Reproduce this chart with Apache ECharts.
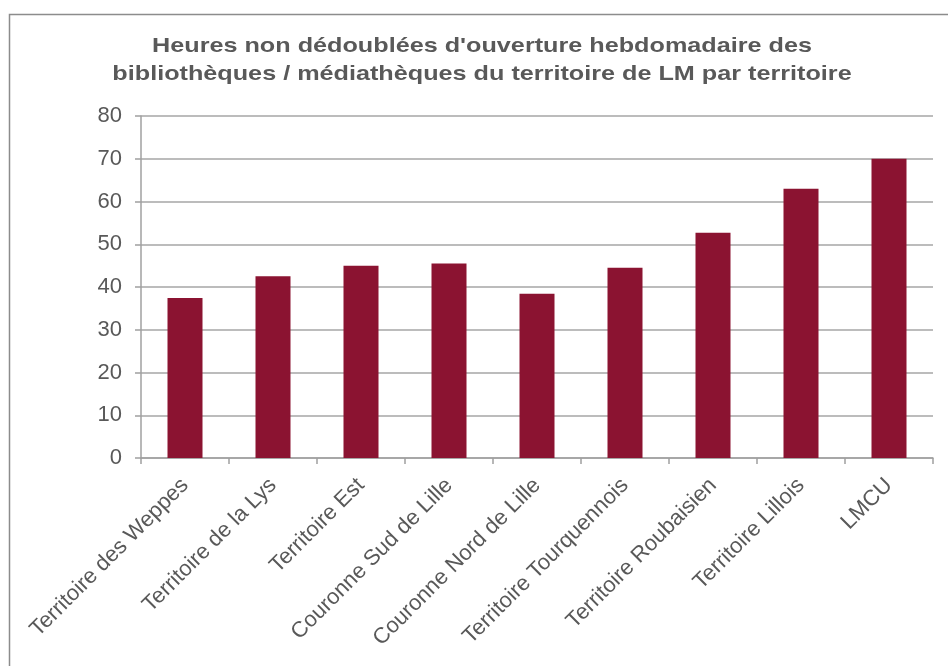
<!DOCTYPE html>
<html>
<head>
<meta charset="utf-8">
<script src="https://cdn.jsdelivr.net/npm/echarts@6/dist/echarts.min.js"></script>
<style>
  html, body { margin: 0; padding: 0; background: #fff; }
  #chart { width: 948px; height: 666px; }
</style>
</head>
<body>
<div id="chart"></div>
<script>
var categories = ['Territoire des Weppes', 'Territoire de la Lys', 'Territoire Est', 'Couronne Sud de Lille',
    'Couronne Nord de Lille', 'Territoire Tourquennois', 'Territoire Roubaisien', 'Territoire Lillois', 'LMCU'];
var heures = [37.4, 42.5, 45, 45.5, 38.4, 44.5, 52.7, 63, 70];
var titre = "Heures non dédoublées d'ouverture hebdomadaire des\nbibliothèques / médiathèques du territoire de LM par territoire";

var myChart = echarts.init(document.getElementById('chart'));
var font = '"Liberation Sans", Arial, sans-serif';
var option = {
    animation: false,
    textStyle: { fontFamily: font },
    graphic: [{
        type: 'rect',
        left: 7, top: 12,
        shape: { width: 960, height: 700 },
        style: { fill: 'none', stroke: '#8c8c8c', lineWidth: 1.5 },
        silent: true
    }, {
        // titre un peu élargi comme dans l'original
        type: 'text',
        x: 482, y: 60,
        scaleX: 1.2,
        style: {
            text: titre,
            fontFamily: font, fontSize: 21, fontWeight: 'bold',
            fill: '#595959', align: 'center', verticalAlign: 'middle', lineHeight: 28
        },
        silent: true
    }],
    grid: { left: 141, right: 15, top: 116, bottom: 208, containLabel: false },
    xAxis: {
        type: 'category',
        data: categories,
        axisLine: { lineStyle: { color: '#a0a0a0', width: 1.5 } },
        axisTick: { show: true, length: 6, lineStyle: { color: '#a0a0a0', width: 1.5 } },
        axisLabel: { rotate: 45, interval: 0, fontSize: 22, color: '#595959', margin: 24, fontFamily: font }
    },
    yAxis: {
        type: 'value',
        min: 0, max: 80, interval: 10,
        axisLine: { show: true, lineStyle: { color: '#a0a0a0', width: 1.5 } },
        axisTick: { show: true, length: 6, lineStyle: { color: '#a0a0a0', width: 1.5 } },
        axisLabel: { fontSize: 22, color: '#595959', margin: 19, fontFamily: font },
        splitLine: { lineStyle: { color: '#a6a6a6', width: 1.5 } }
    },
    series: [{
        type: 'bar',
        data: heures,
        barWidth: 35,
        itemStyle: { color: '#8b1331' }
    }]
};
myChart.setOption(option);
</script>
</body>
</html>
